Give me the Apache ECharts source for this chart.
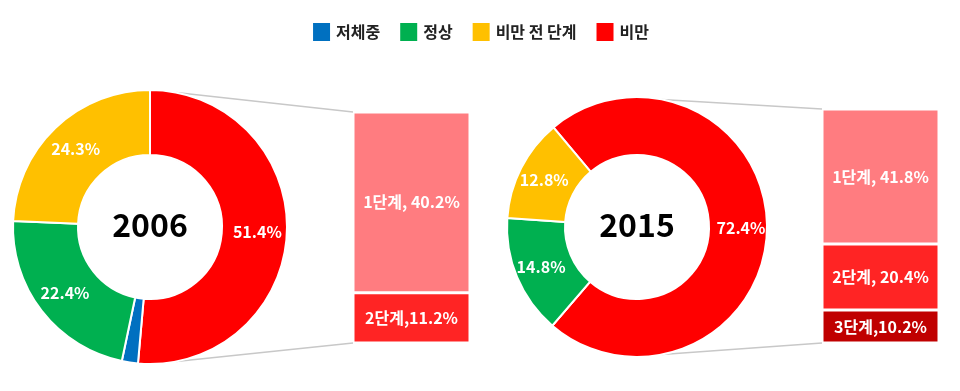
<!DOCTYPE html>
<html>
<head>
<meta charset="utf-8">
<script src="https://cdn.jsdelivr.net/npm/echarts@6/dist/echarts.min.js"></script>
<style>
  html, body { margin: 0; padding: 0; background: #fff; }
  #chart { width: 960px; height: 391px; }
</style>
</head>
<body>
<div id="chart"></div>
<script>
// 데이터
const groups = ['저체중', '정상', '비만 전 단계', '비만'];
const years = ['2006', '2015'];
const share2006 = [1.9, 22.4, 24.3, 51.4];
const share2015 = [0, 14.8, 12.8, 72.4];
const stages2006 = ['1단계', '2단계'];
const stageShare2006 = [40.2, 11.2];
const stageGap2006 = [' ', ''];
const stages2015 = ['1단계', '2단계', '3단계'];
const stageShare2015 = [41.8, 20.4, 10.2];
const stageGap2015 = [' ', ' ', ''];

const groupColors = ['#0070C0', '#00B050', '#FFC000', '#FF0000'];
const stageColors = ['#FF7C80', '#FF2424', '#C00000'];
const FONT = '"Noto Sans CJK KR", "Noto Sans", sans-serif';

// 시계 방향 순서: 비만 -> 저체중 -> 정상 -> 비만 전 단계
const pieOrder = [3, 0, 1, 2];

const pies = [
  { center: [150, 227], radius: [72, 137], startAngle: 90 },
  { center: [637, 227], radius: [72, 130], startAngle: 130 },
];
const grids = [
  { left: 353, top: 112, width: 117, height: 231 },
  { left: 822, top: 109, width: 117, height: 234 },
];

function pieSeries(idx, shares) {
  const p = pies[idx];
  return {
    type: 'pie',
    name: years[idx],
    center: p.center,
    radius: p.radius,
    startAngle: p.startAngle,
    clockwise: true,
    avoidLabelOverlap: false,
    silent: true,
    itemStyle: { borderColor: '#fff', borderWidth: 2 },
    label: {
      position: 'inside',
      color: '#fff',
      fontSize: 16,
      fontWeight: 'bold',
      fontFamily: FONT,
      formatter: (d) => d.value.toFixed(1) + '%',
    },
    labelLine: { show: false },
    data: pieOrder.map((i) => ({
      name: groups[i],
      value: shares[i],
      itemStyle: { color: groupColors[i] },
      label: { show: i !== 0 },
    })),
  };
}

function barSeries(idx, names, values, gaps) {
  const list = [];
  // 누적 막대는 아래부터 쌓이므로 역순으로
  for (let i = names.length - 1; i >= 0; i--) {
    list.push({
      type: 'bar',
      name: names[i],
      xAxisIndex: idx,
      yAxisIndex: idx,
      stack: 'stage' + idx,
      barWidth: '100%',
      silent: true,
      data: [values[i]],
      itemStyle: { color: stageColors[i], borderColor: '#fff', borderWidth: 1.5 },
      label: {
        show: true,
        position: 'inside',
        color: '#fff',
        fontSize: 16,
        fontWeight: 'bold',
        fontFamily: FONT,
        formatter: names[i] + ',' + gaps[i] + values[i].toFixed(1) + '%',
      },
    });
  }
  return list;
}

const chart = echarts.init(document.getElementById('chart'));

const options = {
  animation: false,
  textStyle: { fontFamily: FONT },
  legend: {
    top: 16,
    left: 'center',
    data: groups,
    icon: 'rect',
    itemWidth: 19,
    itemHeight: 20,
    itemGap: 18,
    selectedMode: false,
    textStyle: { fontSize: 16, fontWeight: 'bold', color: '#222', fontFamily: FONT },
  },
  grid: grids.map((g) => ({ ...g, containLabel: false })),
  xAxis: years.map((y, i) => ({ type: 'category', gridIndex: i, data: [y], show: false })),
  yAxis: [
    { type: 'value', gridIndex: 0, min: 0, max: share2006[3], show: false },
    { type: 'value', gridIndex: 1, min: 0, max: share2015[3], show: false },
  ],
  series: [
    pieSeries(0, share2006),
    pieSeries(1, share2015),
    ...barSeries(0, stages2006, stageShare2006, stageGap2006),
    ...barSeries(1, stages2015, stageShare2015, stageGap2015),
  ],
};
chart.setOption(options);

// 연결선과 가운데 연도
const graphics = [];
const tilt = 11 * Math.PI / 180;
[share2006[3], share2015[3]].forEach((total, i) => {
  const p = pies[i];
  const g = grids[i];
  const yTop = chart.convertToPixel({ yAxisIndex: i }, total);
  const yBottom = chart.convertToPixel({ yAxisIndex: i }, 0);
  const R = p.radius[1];
  const px = p.center[0] + R * Math.sin(tilt);
  const dy = R * Math.cos(tilt);
  const lineStyle = { stroke: '#c8c8c8', lineWidth: 1.5 };
  graphics.push({ type: 'line', shape: { x1: px, y1: p.center[1] - dy, x2: g.left, y2: yTop }, style: lineStyle, z: -1 });
  graphics.push({ type: 'line', shape: { x1: px, y1: p.center[1] + dy, x2: g.left, y2: yBottom }, style: lineStyle, z: -1 });
  graphics.push({
    type: 'text',
    x: p.center[0],
    y: p.center[1] - 2,
    style: {
      text: years[i],
      font: 'bold 32px ' + FONT,
      fill: '#000',
      align: 'center',
      verticalAlign: 'middle',
    },
  });
});
chart.setOption({ graphic: graphics });
</script>
</body>
</html>
